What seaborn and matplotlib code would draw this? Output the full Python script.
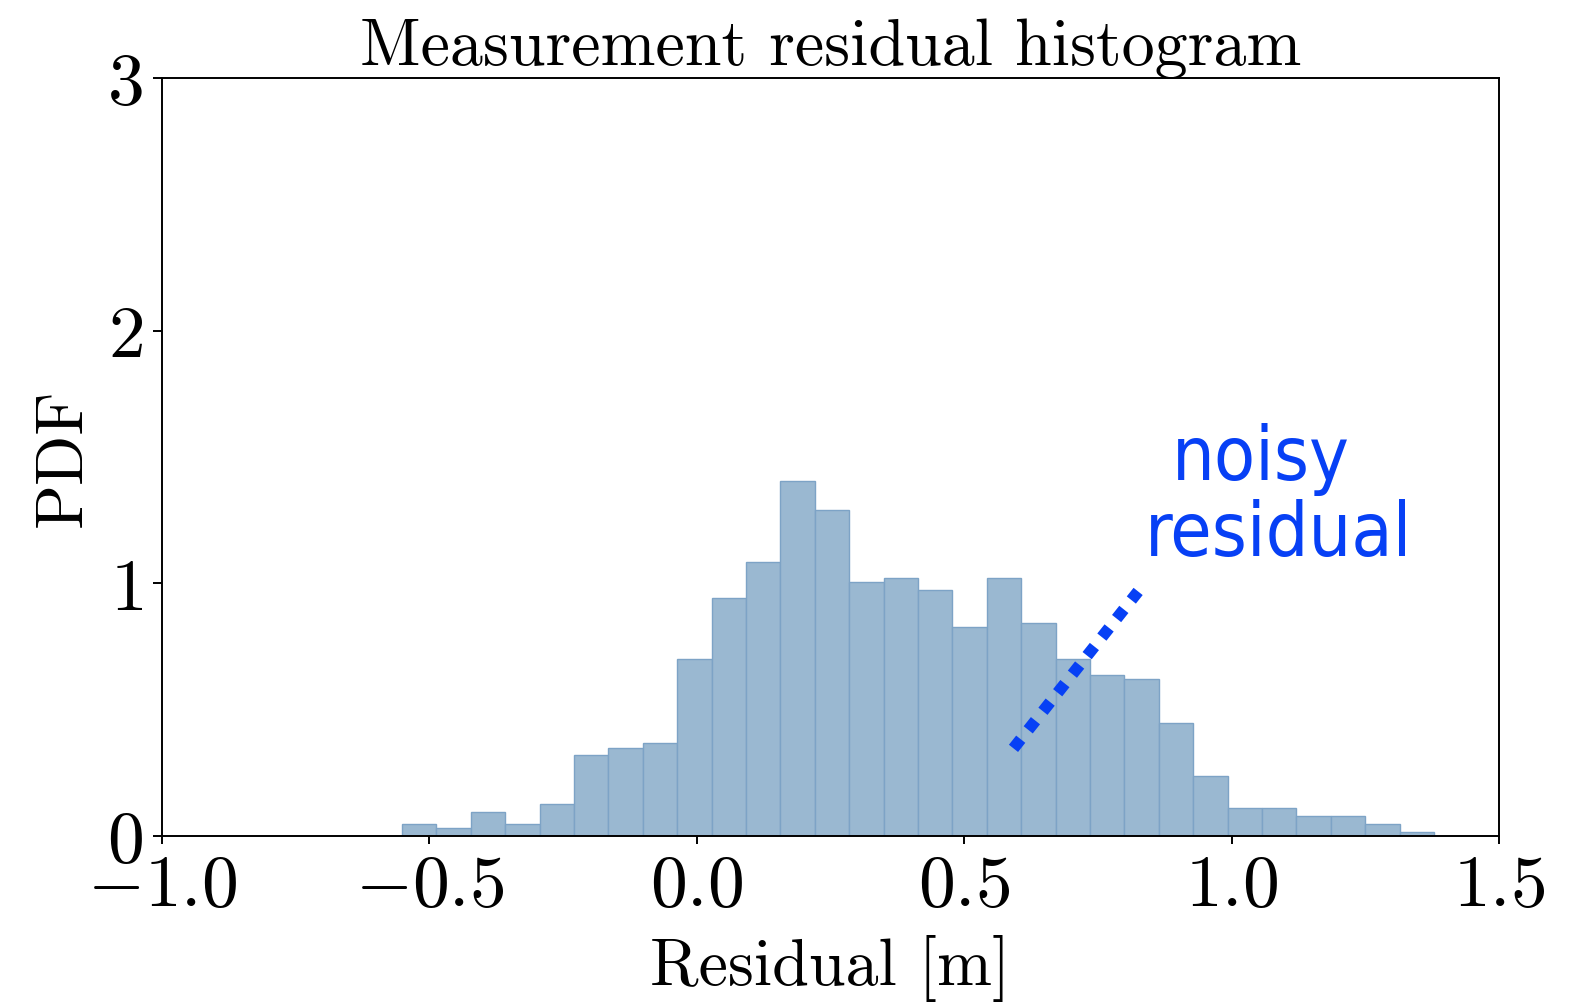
import numpy as np
import matplotlib
matplotlib.use("Agg")
import matplotlib.pyplot as plt
import seaborn as sns

# Histogram of measurement residuals (normalised to a PDF)
bin_range = (-0.551, 1.378)
n_bins = 30
pdf_values = [0.046, 0.030, 0.095, 0.046, 0.127, 0.319, 0.350, 0.367, 0.700, 0.941,
              1.083, 1.404, 1.291, 1.004, 1.021, 0.972, 0.828, 1.021, 0.844, 0.700,
              0.637, 0.621, 0.446, 0.239, 0.111, 0.111, 0.079, 0.079, 0.046, 0.015]

x_ticks = [-1.0, -0.5, 0.0, 0.5, 1.0, 1.5]
y_ticks = [0, 1, 2, 3]

# annotation line endpoints (residual, pdf)
note_x = [0.592, 0.825]
note_y = [0.347, 0.968]

sns.set_theme(style="ticks")
plt.rcParams.update({
    "font.family": "cmr10",
    "mathtext.fontset": "cm",
    "axes.formatter.use_mathtext": True,
    "axes.unicode_minus": True,
    "text.color": "black",
    "axes.labelcolor": "black",
    "axes.edgecolor": "black",
    "axes.linewidth": 1.4,
    "xtick.major.width": 1.4,
    "ytick.major.width": 1.4,
    "xtick.major.size": 6,
    "ytick.major.size": 6.5,
    "xtick.color": "black",
    "ytick.color": "black",
})

fig = plt.figure(figsize=(15.86, 10.04), dpi=100)
ax = fig.add_axes([0.102, 0.1663, 0.8433, 0.755])

edges = np.linspace(bin_range[0], bin_range[1], n_bins + 1)
centers = 0.5 * (edges[:-1] + edges[1:])

sns.histplot(x=centers, weights=pdf_values, bins=n_bins, binrange=bin_range,
             stat="count", color="#9ab8d1", edgecolor="#7da3c6", linewidth=1.0,
             alpha=1.0, ax=ax)

ax.plot(note_x, note_y, color="#0740f5", linewidth=8.4, linestyle=(0, (1.0, 1.03)),
        dash_capstyle="butt", solid_capstyle="butt")

note_font = dict(family="DejaVu Sans", stretch="condensed", size=54, color="#0740f5")
ax.text(1.055, 1.413, "noisy", ha="center", va="baseline", **note_font)
ax.text(1.088, 1.113, "residual", ha="center", va="baseline", **note_font)

ax.set_xlim(-1.0, 1.5)
ax.set_ylim(0, 3)
ax.set_xticks(x_ticks)
ax.set_yticks(y_ticks)
ax.tick_params(axis="x", labelsize=53, pad=7)
ax.tick_params(axis="y", labelsize=53, pad=7)

ax.set_title("Measurement residual histogram", fontsize=47.5, pad=9)
ax.set_xlabel("Residual [m]", fontsize=47.5, labelpad=11)
ax.set_ylabel("PDF", fontsize=47.5, labelpad=10)

for side in ["top", "right", "bottom", "left"]:
    ax.spines[side].set_visible(True)
    ax.spines[side].set_color("black")

fig.savefig("out.png", dpi=100)
